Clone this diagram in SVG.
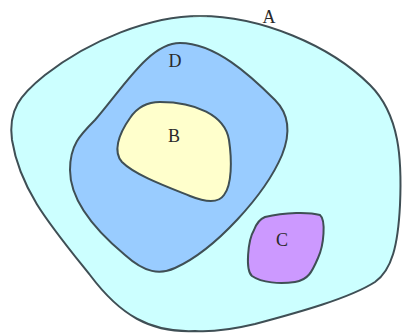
<svg xmlns="http://www.w3.org/2000/svg" width="403" height="336" viewBox="0 0 403 336">
<style>
.region{stroke:#3f4f55;stroke-width:2;stroke-linejoin:round}
.lbl{font-family:"Liberation Serif","DejaVu Serif",serif;font-size:18px;fill:#2a2a2a;text-anchor:middle}
</style>
<rect width="403" height="336" fill="#ffffff"/>
<g id="A">
<path class="region" fill="#ccffff" d="M200,16 C260,16 330,45 370,85 C400,115 402,160 400,205 C398,245 392,270 375,282 C350,298 300,312 255,324 C230,330 210,332 195,331 C150,333 120,315 90,275 C50,225 20,190 12,140 C8,110 20,95 45,75 C90,40 150,16 200,16 Z"/>
<line x1="193" y1="16" x2="207" y2="16" stroke="#5a6a6a" stroke-width="2"/>
<text class="lbl" x="269" y="23">A</text>
</g>
<g id="D">
<path class="region" fill="#99ccff" d="M180,43 C215,43 250,75 275,100 C290,115 290,135 282,155 C265,195 215,250 175,268 C160,275 145,273 125,255 C95,230 70,200 70,170 C70,145 80,135 95,120 C125,85 150,43 180,43 Z"/>
<text class="lbl" x="175" y="67">D</text>
</g>
<g id="B">
<path class="region" fill="#ffffcc" d="M160,102 C195,102 225,115 229,140 C232,160 232,185 224,195 C218,204 205,202 190,196 C165,186 135,175 122,162 C113,152 118,135 130,118 C138,106 148,102 160,102 Z"/>
<text class="lbl" x="174" y="142">B</text>
</g>
<g id="C">
<path class="region" fill="#cc99ff" d="M265,217 C285,212 310,212 320,215 C326,220 324,245 318,258 C312,272 308,280 295,282 C280,284 262,283 252,276 C245,270 248,240 254,230 C257,222 260,219 265,217 Z"/>
<text class="lbl" x="282" y="246">C</text>
</g>
<g id="connectors"/>
</svg>
